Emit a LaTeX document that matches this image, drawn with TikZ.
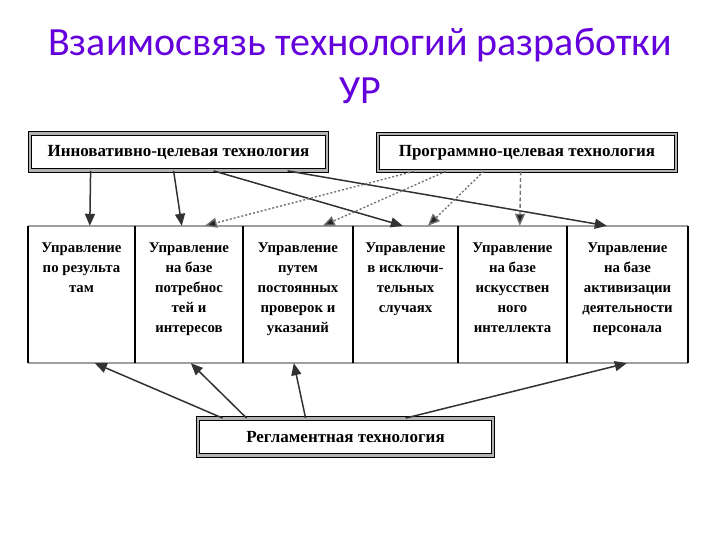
\documentclass[tikz,border=0pt]{standalone}
\usepackage{fontspec}
\setmainfont{Liberation Serif}
\newfontfamily\titlefont{Carlito}
\usetikzlibrary{arrows.meta,calc}
\definecolor{titlecol}{RGB}{100,0,220}
\definecolor{linecol}{RGB}{50,50,50}
\definecolor{dotcol}{RGB}{115,115,115}
\begin{document}
\begin{tikzpicture}[x=1pt,y=-1pt,
  techbox/.style={draw=black, line width=0.8pt, double=gray!60, double distance=2.6pt,
    fill=white, minimum height=37pt, inner sep=0pt,
    font=\fontsize{17}{19}\selectfont\bfseries},
  cell/.style={draw=none, minimum height=137pt, inner sep=0pt},
  celltext/.style={anchor=north, align=center, inner sep=0pt,
    font=\fontsize{14.8}{20}\selectfont\bfseries},
  titletext/.style={anchor=base, inner sep=0pt, text=titlecol,
    font=\titlefont\fontsize{40}{48}\selectfont},
  solidarrow/.style={draw=linecol, line width=1.5pt, -{Triangle[length=12pt,width=10pt]}},
  dotarrow/.style={draw=dotcol, line width=1.4pt, dash pattern=on 2pt off 2pt, -{Triangle[length=12pt,width=10pt,fill=black!85]}},
  dasharrow/.style={draw=dotcol, line width=1.4pt, dash pattern=on 4pt off 2.5pt, -{Triangle[length=12pt,width=10pt,fill=black!85]}}
]
\useasboundingbox (0,0) rectangle (720,540);

% title
\node[titletext] (title1) at (360,56) {Взаимосвязь технологий разработки};
\node[titletext] (title2) at (360,104) {УР};

% top boxes
\node[techbox, minimum width=297pt] (inn) at (178.5,152) {Инновативно-целевая технология};
\node[techbox, minimum width=298pt] (prog) at (527,152.5) {Программно-целевая технология};
\node[techbox, minimum width=295pt] (reg) at (345.5,437) {Регламентная технология};

% cells
\node[cell, minimum width=107pt] (b1) at (81.5,294.5) {};
\node[cell, minimum width=108pt] (b2) at (189,294.5) {};
\node[cell, minimum width=110pt] (b3) at (298,294.5) {};
\node[cell, minimum width=105pt] (b4) at (405.5,294.5) {};
\node[cell, minimum width=109pt] (b5) at (512.5,294.5) {};
\node[cell, minimum width=121pt] (b6) at (627.5,294.5) {};

\draw[gray!75, line width=2.5pt] (b1.north west) -- (b6.north east);
\draw[gray!75, line width=2.5pt] (b1.south west) -- (b6.south east);
\draw[black, line width=1.6pt] (b1.north west) -- (b1.south west);
\draw[black, line width=1.6pt] (b2.north west) -- (b2.south west);
\draw[black, line width=1.6pt] (b3.north west) -- (b3.south west);
\draw[black, line width=1.6pt] (b4.north west) -- (b4.south west);
\draw[black, line width=1.6pt] (b5.north west) -- (b5.south west);
\draw[black, line width=1.6pt] (b6.north west) -- (b6.south west);
\draw[black, line width=1.6pt] (b6.north east) -- (b6.south east);

\node[celltext] (t1) at ([yshift=-17pt]b1.north) {Управление\\по результа\\там};
\node[celltext] (t2) at ([yshift=-17pt]b2.north) {Управление\\на базе\\потребнос\\тей и\\интересов};
\node[celltext] (t3) at ([yshift=-17pt]b3.north) {Управление\\путем\\постоянных\\проверок и\\указаний};
\node[celltext] (t4) at ([yshift=-17pt]b4.north) {Управление\\в исключи-\\тельных\\случаях};
\node[celltext] (t5) at ([yshift=-17pt]b5.north) {Управление\\на базе\\искусствен\\ного\\интеллекта};
\node[celltext] (t6) at ([yshift=-17pt]b6.north) {Управление\\на базе\\активизации\\деятельности\\персонала};

% arrows from innovative
\draw[solidarrow] ([xshift=61pt]inn.south west) -- ([xshift=62pt]b1.north west);
\draw[solidarrow] ([xshift=144pt]inn.south west) -- ([xshift=47pt]b2.north west);
\draw[solidarrow] ([xshift=184pt]inn.south west) -- ([xshift=50pt]b4.north west);
\draw[solidarrow] ([xshift=258pt]inn.south west) -- ([xshift=40pt]b6.north west);

% arrows from program
\draw[dotarrow] ([xshift=36pt]prog.south west) -- ([xshift=70pt]b2.north west);
\draw[dotarrow] ([xshift=68pt]prog.south west) -- ([xshift=80pt]b3.north west);
\draw[dotarrow] ([xshift=106pt]prog.south west) -- ([xshift=75pt]b4.north west);
\draw[dasharrow] ([xshift=143pt]prog.south west) -- ([xshift=62pt]b5.north west);

% arrows from regulation
\draw[solidarrow] ([xshift=25pt]reg.north west) -- ([xshift=67pt]b1.south west);
\draw[solidarrow] ([xshift=49pt]reg.north west) -- ([xshift=56pt]b2.south west);
\draw[solidarrow] ([xshift=108pt]reg.north west) -- ([xshift=51pt]b3.south west);
\draw[solidarrow] ([xshift=208pt]reg.north west) -- ([xshift=60pt]b6.south west);
\end{tikzpicture}
\end{document}
